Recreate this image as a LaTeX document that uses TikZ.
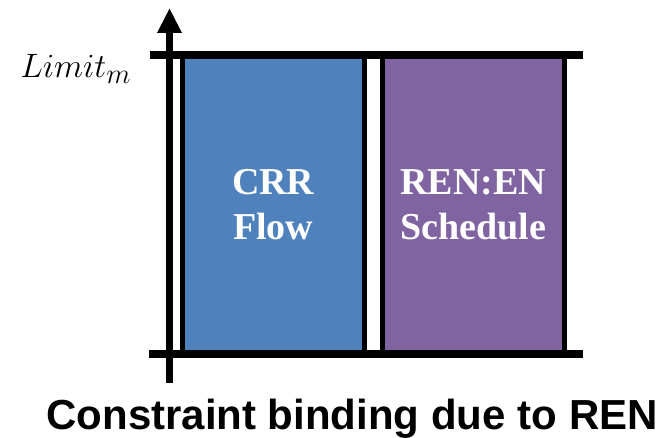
\documentclass[tikz,border=0pt]{standalone}
\usepackage{fontspec}
\setmainfont{Liberation Serif}
\setsansfont{Liberation Sans}
\usetikzlibrary{arrows.meta}
\definecolor{boxblue}{HTML}{4F81BD}
\definecolor{boxpurple}{HTML}{8064A2}
\tikzset{
  barbox/.style={draw=black, line width=5pt, minimum width=182.5pt, minimum height=299pt, inner sep=0pt, text=white, align=center,
    font=\fontsize{38}{45}\selectfont\bfseries},
  limline/.style={line width=8pt, draw=black},
  axisline/.style={line width=7pt, draw=black, -{Triangle[width=23pt,length=25pt]}}
}
\begin{document}
\begin{tikzpicture}[x=1pt,y=-1pt]
\useasboundingbox (0,0) rectangle (670,438);
\node[barbox, fill=boxblue] (crr) at (273.25,204.5) {CRR\\Flow};
\node[barbox, fill=boxpurple] (ren) at (473.25,204.5) {REN:EN\\Schedule};
\coordinate (tl) at (150,55);
\coordinate (tr) at (583,55);
\coordinate (bl) at (149,354.5);
\coordinate (br) at (583,354.5);
\draw[limline] (tl) -- (tr);
\draw[limline] (bl) -- (br);
\coordinate (ab) at (169.5,383);
\coordinate (at) at (169.5,8);
\draw[axisline] (ab) -- (at);
\node[anchor=base west, inner sep=0pt, scale=1.36, font=\fontsize{24.88}{30}\selectfont] (lim) at (20,78) {$Limit_m$};
\node[anchor=base, inner sep=0pt, font=\sffamily\bfseries\fontsize{42}{50}\selectfont] (cap) at (352,430) {Constraint binding due to REN};
\end{tikzpicture}
\end{document}
